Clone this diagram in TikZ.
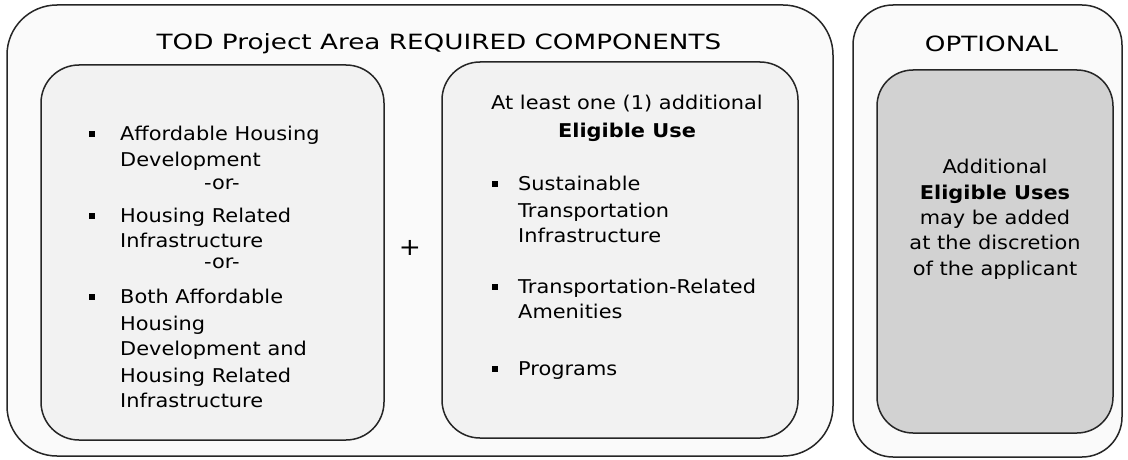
\documentclass[tikz,border=0pt]{standalone}
\usepackage{fontspec}
\setmainfont{DejaVu Sans}
\newfontfamily\bodyfont{DejaVu Sans}[FakeStretch=1.1]
\newfontfamily\headfont{DejaVu Sans}[FakeStretch=1.25]
\definecolor{edge}{HTML}{262626}
\definecolor{paleA}{HTML}{FAFAFA}
\definecolor{paleB}{HTML}{F2F2F2}
\definecolor{greyC}{HTML}{D2D2D2}
\tikzset{
  box/.style={draw=edge, line width=1.5pt, rectangle, inner sep=0pt},
  bigbox/.style={box, fill=paleA, rounded corners=50pt},
  inbox/.style={box, fill=paleB, rounded corners=38pt},
  optbox/.style={box, fill=greyC, rounded corners=36pt},
  txt/.style={inner sep=0pt, anchor=base west, font=\bodyfont\fontsize{19}{22}\selectfont, text=black},
  ctxt/.style={txt, anchor=base},
  head/.style={inner sep=0pt, anchor=base, font=\headfont\fontsize{21}{24}\selectfont, text=black},
  bul/.style={fill=black, rectangle, inner sep=0pt, minimum size=6pt},
}
\begin{document}
\begin{tikzpicture}[x=1pt,y=-1pt]
\useasboundingbox (0,0) rectangle (1128,460);
\fill[white] (0,0) rectangle (1128,460);
% boxes
\node[bigbox, minimum width=826pt, minimum height=451pt] (req) at (420,230.5) {};
\node[inbox, minimum width=343pt, minimum height=375pt] (housing) at (212.5,252.5) {};
\node[inbox, minimum width=356pt, minimum height=376pt] (elig) at (620,250) {};
\node[bigbox, rounded corners=40pt, minimum width=269pt, minimum height=452pt] (opt) at (987.5,231) {};
\node[optbox, minimum width=236pt, minimum height=363pt] (optin) at (995,251.5) {};
% titles
\node[head] (t1) at (439,50) {TOD Project Area REQUIRED COMPONENTS};
\node[head] (t2) at (991.5,52) {OPTIONAL};
% left list
\node[bul] (b1) at (92,134) {};
\node[txt] (l1) at (120,140) {Affordable Housing};
\node[txt] (l2) at (120,166) {Development};
\node[ctxt] (o1) at (222,189) {-or-};
\node[bul] (b2) at (92,216) {};
\node[txt] (l3) at (120,222) {Housing Related};
\node[txt] (l4) at (120,247) {Infrastructure};
\node[ctxt] (o2) at (222,268) {-or-};
\node[bul] (b3) at (92,297) {};
\node[txt] (l5) at (120,303) {Both Affordable};
\node[txt] (l6) at (120,330) {Housing};
\node[txt] (l7) at (120,355) {Development and};
\node[txt] (l8) at (120,382) {Housing Related};
\node[txt] (l9) at (120,407) {Infrastructure};
% plus
\node[inner sep=0pt, font=\bodyfont\fontsize{24}{24}\selectfont] (plus) at (410,248) {+};
% middle list
\node[ctxt] (m0) at (627,110) {At least one (1) additional};
\node[ctxt] (m1) at (627,137) {\bfseries Eligible Use};
\node[bul] (c1) at (495,184) {};
\node[txt] (m2) at (518,190) {Sustainable};
\node[txt] (m3) at (518,217) {Transportation};
\node[txt] (m4) at (518,242) {Infrastructure};
\node[bul] (c2) at (495,287) {};
\node[txt] (m5) at (518,293) {Transportation-Related};
\node[txt] (m6) at (518,318) {Amenities};
\node[bul] (c3) at (495,369) {};
\node[txt] (m7) at (518,375) {Programs};
% optional text
\node[ctxt] (p1) at (995,173) {Additional};
\node[ctxt] (p2) at (995,199) {\bfseries Eligible Uses};
\node[ctxt] (p3) at (995,224) {may be added};
\node[ctxt] (p4) at (995,249) {at the discretion};
\node[ctxt] (p5) at (995,275) {of the applicant};
\end{tikzpicture}
\end{document}
